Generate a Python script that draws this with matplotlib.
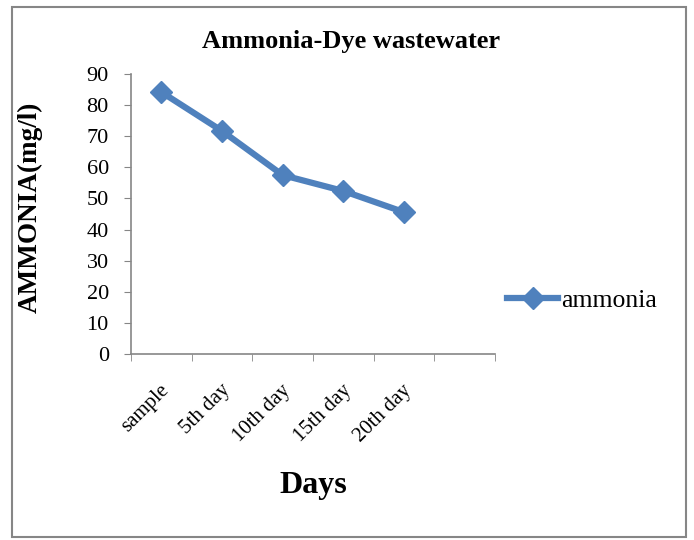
import matplotlib
matplotlib.use("Agg")
import matplotlib.pyplot as plt
import matplotlib.transforms as mtransforms
from matplotlib.patches import Rectangle

categories = ["sample", "5th day", "10th day", "15th day", "20th day"]
ammonia = [84.2, 71.7, 57.5, 52.4, 45.6]
y_ticks = list(range(0, 100, 10))

plt.rcParams["font.family"] = ["Liberation Serif", "DejaVu Serif"]

fig = plt.figure(figsize=(6.94, 5.4), dpi=100)
ax = fig.add_axes([0.1888, 0.3444, 0.5245, 0.5185])

x = list(range(len(categories)))
line_color = "#4F81BD"
ax.plot(x, ammonia, "-", color=line_color, linewidth=4.5, marker="D",
        markersize=11, label="ammonia")

ax.set_xlim(-0.5, 5.5)
ax.set_ylim(0, 90)
ax.set_yticks(y_ticks)

# category labels at centres, tick marks at category boundaries
ax.set_xticks(x)
ax.set_xticklabels(categories, rotation=45, ha="right", va="center",
                   rotation_mode="anchor", fontsize=15)
ax.tick_params(axis="x", which="major", length=0, pad=24)
shift = mtransforms.ScaledTranslation(5 / 100, 0, fig.dpi_scale_trans)
for lbl in ax.get_xticklabels():
    lbl.set_transform(lbl.get_transform() + shift)
ax.set_xticks([i - 0.5 for i in range(7)], minor=True)
ax.tick_params(axis="x", which="minor", length=5, color="#868686", direction="out")
ax.tick_params(axis="y", length=5, color="#868686", direction="out", labelsize=16, pad=11)

for side in ("top", "right"):
    ax.spines[side].set_visible(False)
for side in ("left", "bottom"):
    ax.spines[side].set_color("#868686")
    ax.spines[side].set_linewidth(1.2)

fig.text(351 / 694, 1 - 42 / 540, "Ammonia-Dye wastewater", fontsize=19,
         fontweight="bold", ha="center", va="center")
fig.text(30 / 694, 1 - 207 / 540, "AMMONIA(mg/l)", fontsize=19.5, fontweight="bold",
         rotation=90, ha="center", va="center")
fig.text(313 / 694, 1 - 486 / 540, "Days", fontsize=23, fontweight="bold",
         ha="center", va="center")

fig.legend(loc="center left", bbox_to_anchor=(0.697, 0.443), frameon=False,
           fontsize=18.5, handlelength=2.0, handletextpad=0.1)

# outer chart border
fig.patches.append(Rectangle((12 / 694, 3 / 540), 674 / 694, 530 / 540,
                             transform=fig.transFigure, fill=False,
                             edgecolor="#868686", linewidth=1.5))

fig.savefig("out.png", dpi=100)
